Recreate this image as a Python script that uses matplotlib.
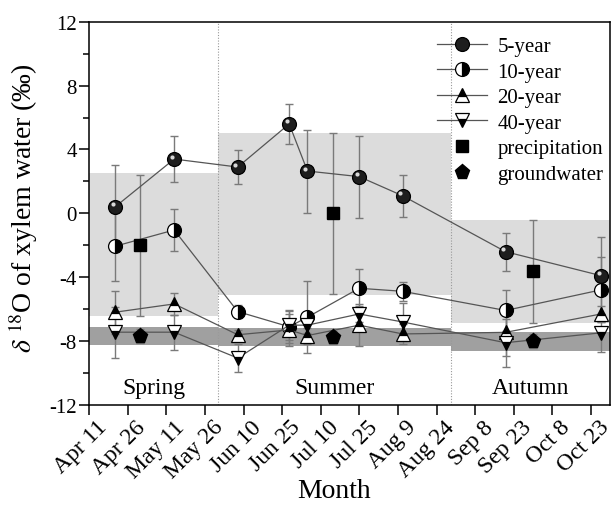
import matplotlib
matplotlib.use("Agg")
import matplotlib.pyplot as plt
from matplotlib import transforms

plt.rcParams["font.family"] = ["Liberation Serif", "DejaVu Serif"]
plt.rcParams["mathtext.fontset"] = "stix"

# x positions are days after Apr 11
tick_labels = ["Apr 11", "Apr 26", "May 11", "May 26", "Jun 10", "Jun 25", "Jul 10",
               "Jul 25", "Aug 9", "Aug 24", "Sep 8", "Sep 23", "Oct 8", "Oct 23"]
tick_days = [0, 15, 30, 45, 60, 75, 90, 105, 120, 135, 150, 165, 180, 195]

tree_days = [10, 33, 57.7, 77.7, 84.8, 104.9, 121.8, 161.8, 198.9]
y5 = [0.4, 3.4, 2.9, 5.6, 2.65, 2.3, 1.1, -2.4, -3.9]
e5 = [2.6, 1.45, 1.05, 1.23, 2.6, 2.57, 1.3, 1.2, 2.4]
y10 = [-2.06, -1.04, -6.15, -7.1, -6.5, -4.69, -4.88, -6.08, -4.79]
e10 = [2.2, 1.3, 0.4, 1.0, 2.24, 1.18, 0.6, 1.28, 2.04]
y20 = [-6.19, -5.67, -7.6, -7.3, -7.65, -7.0, -7.55, -7.45, -6.3]
e20 = [1.36, 0.7, 0.3, 1.0, 0.5, 1.3, 0.6, 1.45, 0.5]
y40 = [-7.44, -7.44, -9.06, -7.0, -7.0, -6.3, -6.8, -8.1, -7.48]
e40 = [1.6, 1.1, 0.88, 0.95, 0.5, 0.5, 1.2, 1.5, 1.2]

source_days = [19.7, 94.8, 172.6]
y_precip = [-2.0, 0.0, -3.63]
e_precip = [4.4, 5.05, 3.23]
y_ground = [-7.69, -7.75, -8.0]
e_ground = [0.45, 0.4, 0.45]

# season bands
season_names = ["Spring", "Summer", "Autumn"]
season_edges = [0, 50, 140.5, 202.2]
light_low = [-6.4, -5.1, -6.85]
light_high = [2.5, 5.05, -0.4]
dark_low = [-8.23, -8.31, -8.59]
dark_high = [-7.13, -7.19, -7.44]

fig = plt.figure(figsize=(6.14, 5.06), dpi=100)
ax = fig.add_axes([0.1454, 0.1976, 0.8473, 0.7575])

for i in range(3):
    x0, x1 = season_edges[i], season_edges[i + 1]
    ax.fill_between([x0, x1], light_low[i], light_high[i], color="#dcdcdc", lw=0, zorder=0)
    ax.fill_between([x0, x1], dark_low[i], dark_high[i], color="#a0a0a0", lw=0, zorder=0)
    ax.text((x0 + x1) / 2, -10.9, season_names[i], ha="center", va="center", fontsize=17)
for xb in season_edges[1:3]:
    ax.axvline(xb, color="#999999", ls=(0, (1, 1.5)), lw=0.8, zorder=1)

ebar = dict(fmt="none", ecolor="#7a7a7a", elinewidth=1, capsize=3, capthick=1, zorder=2)
for y, e in [(y5, e5), (y10, e10), (y20, e20), (y40, e40)]:
    ax.errorbar(tree_days, y, yerr=e, **ebar)
ax.errorbar(source_days, y_precip, yerr=e_precip, **ebar)
ax.errorbar(source_days, y_ground, yerr=e_ground, **ebar)

line = dict(color="#555555", lw=0.9, mec="black", mew=0.9, zorder=3)
h5, = ax.plot(tree_days, y5, marker="o", ms=10, mfc="#1e1e1e", label="5-year", **line)
hl = transforms.offset_copy(ax.transData, fig=fig, x=-2.5, y=2.5, units="dots")
ax.plot(tree_days, y5, ls="none", marker="o", ms=3, mfc="#d8d8d8", mec="none",
        transform=hl, zorder=4)
h10, = ax.plot(tree_days, y10, marker="o", ms=10, fillstyle="right", mfc="black",
               markerfacecoloralt="white", label="10-year", **line)
h20, = ax.plot(tree_days, y20, marker="^", ms=10, fillstyle="top", mfc="black",
               markerfacecoloralt="white", label="20-year", **line)
h40, = ax.plot(tree_days, y40, marker="v", ms=10, fillstyle="bottom", mfc="black",
               markerfacecoloralt="white", label="40-year", **line)
hp, = ax.plot(source_days, y_precip, ls="none", marker="s", ms=8.5, color="black",
              label="precipitation", zorder=3)
hg, = ax.plot(source_days, y_ground, ls="none", marker="p", ms=11, color="black",
              label="groundwater", zorder=3)

ax.set_xlim(0, 202.2)
ax.set_ylim(-12, 12)
ax.set_yticks([-12, -8, -4, 0, 4, 8, 12])
ax.set_yticklabels(["-12", "-8", "-4", "0", "4", "8", "12"])
ax.set_yticks(range(-10, 12, 4), minor=True)
ax.set_xticks(tick_days)
ax.set_xticklabels(tick_labels, rotation=45, ha="right")

ax.tick_params(axis="both", which="major", direction="out", length=7, width=1.1,
               labelsize=15, pad=2)
ax.tick_params(axis="x", which="major", labelsize=17, pad=1)
ax.tick_params(axis="y", which="minor", direction="out", length=4, width=1.1)
for s in ax.spines.values():
    s.set_linewidth(1.1)

# rotated labels end a little right of their tick, as in the original
shift = transforms.ScaledTranslation(0.22, 0, fig.dpi_scale_trans)
for tk in ax.xaxis.get_major_ticks():
    tk.label1.set_transform(tk.label1.get_transform() + shift)

ax.set_xlabel("Month", fontsize=20)
ax.xaxis.set_label_coords(0.471, -0.19)
ax.set_ylabel(r"$\delta$ $^{18}$O of xylem water (‰)", fontsize=20)
ax.yaxis.set_label_coords(-0.095, 0.515)

ax.legend(handles=[h5, h10, h20, h40, hp, hg], loc="upper left",
          bbox_to_anchor=(0.64, 1.0), frameon=False, fontsize=15,
          handlelength=2.4, handletextpad=0.5, labelspacing=0.29, borderpad=0.2)

fig.savefig("out.png", dpi=100)
